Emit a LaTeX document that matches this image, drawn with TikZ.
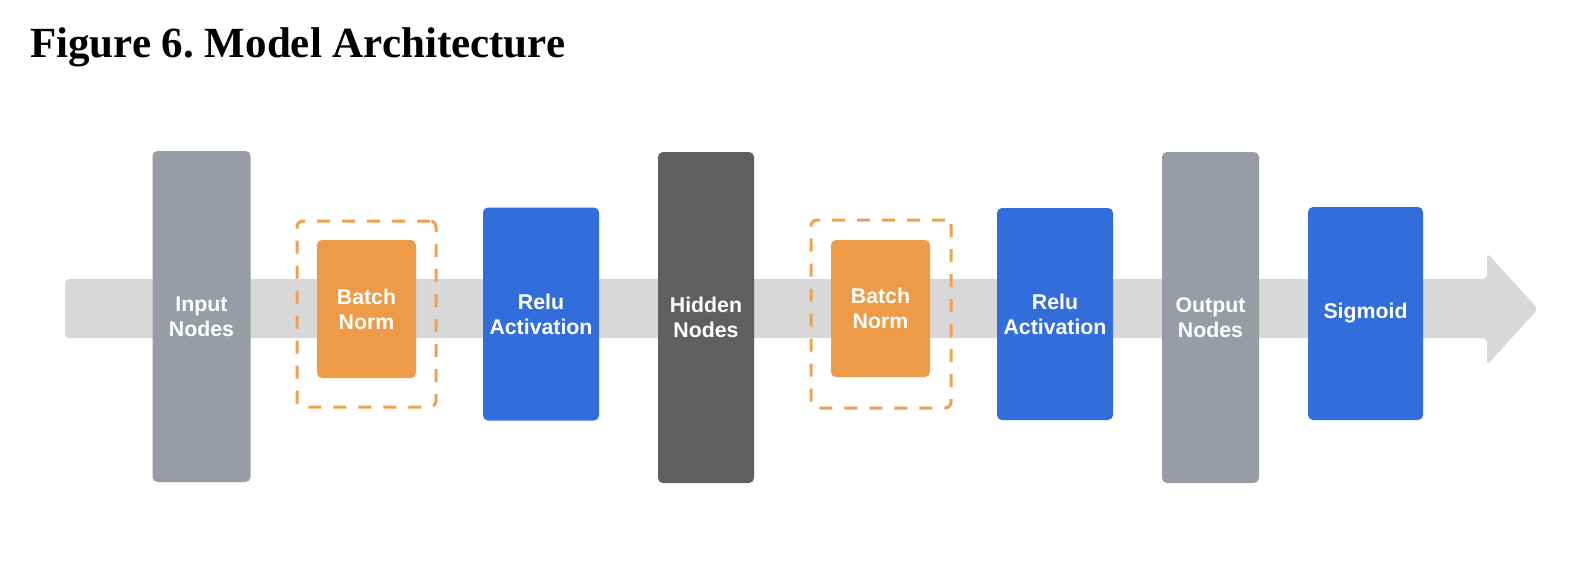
\documentclass[tikz,border=0pt]{standalone}
\usepackage{fontspec}
\setmainfont{Liberation Serif}
\newfontfamily\boxfont{Liberation Sans}
\definecolor{bandgray}{HTML}{D8D8D8}
\definecolor{nodegray}{HTML}{989CA5}
\definecolor{darkgray}{HTML}{5F5F5F}
\definecolor{relublue}{HTML}{316EDB}
\definecolor{bnorange}{HTML}{EE9B48}
\definecolor{dashorange}{HTML}{F0A04E}
\tikzset{
  blk/.style={rectangle, rounded corners=5pt, inner sep=0pt, align=center,
    text=white, font=\boxfont\fontsize{21.3}{25}\selectfont\bfseries},
  graybox/.style={blk, fill=nodegray, minimum width=98pt, minimum height=331pt},
  darkbox/.style={blk, fill=darkgray, minimum width=96pt, minimum height=331pt},
  bluebox/.style={blk, fill=relublue, minimum width=116pt, minimum height=213pt},
  bnbox/.style={blk, fill=bnorange, minimum width=99pt, minimum height=138pt},
  dashbox/.style={rectangle, draw=dashorange, line width=3pt, dash pattern=on 13pt off 12pt,
    rounded corners=6pt, minimum width=139pt, minimum height=186pt, inner sep=0pt},
  band/.style={fill=bandgray, rounded corners=4pt},
  titlestyle/.style={anchor=base west, inner sep=0pt, font=\fontsize{43}{50}\selectfont\bfseries}
}
\frenchspacing
\begin{document}
\begin{tikzpicture}[x=1pt, y=-1pt]
  \useasboundingbox[fill=white] (0,0) rectangle (1582,574);
  \node[titlestyle] (title) at (30,57) {\frenchspacing Figure 6. Model Architecture};
  % background arrow band
  \coordinate (bandtl) at (65,279);
  \coordinate (bandtr) at (1487,279);
  \coordinate (headtop) at (1487,253);
  \coordinate (tip) at (1538,309);
  \coordinate (headbot) at (1487,365);
  \coordinate (bandbr) at (1487,338);
  \coordinate (bandbl) at (65,338);
  \fill[band] (bandtl) -- (bandtr) -- (headtop) -- (tip) -- (headbot) -- (bandbr) -- (bandbl) -- cycle;
  % blocks
  \node[graybox] (inp) at (201.5,316.5) {Input\\Nodes};
  \node[dashbox] (db1) at (366.5,314) {};
  \node[bnbox] (bn1) at (366.5,309) {Batch\\Norm};
  \node[bluebox] (relu1) at (541,314) {Relu\\Activation};
  \node[darkbox] (hid) at (706,317.5) {Hidden\\Nodes};
  \node[dashbox, minimum width=140pt, minimum height=188pt] (db2) at (881,314) {};
  \node[bnbox, minimum height=137pt] (bn2) at (880.5,308.5) {Batch\\Norm};
  \node[bluebox, minimum height=212pt] (relu2) at (1055,314) {Relu\\Activation};
  \node[graybox, minimum width=97pt] (out) at (1210.5,317.5) {Output\\Nodes};
  \node[bluebox, minimum width=115pt] (sig) at (1365.5,313.5) {Sigmoid};
\end{tikzpicture}
\end{document}
